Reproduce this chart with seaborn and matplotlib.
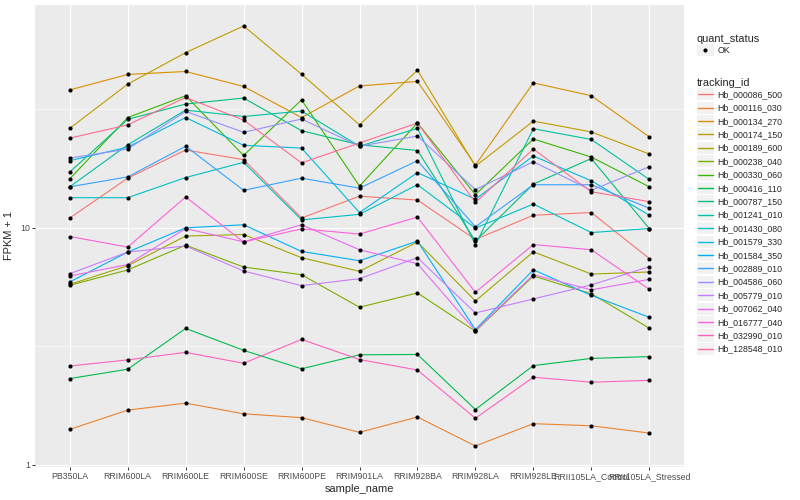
import matplotlib
matplotlib.use("Agg")
import matplotlib.pyplot as plt
from matplotlib.lines import Line2D
from matplotlib.patches import Rectangle
from matplotlib.legend_handler import HandlerBase
from matplotlib.ticker import FixedLocator, NullFormatter
import pandas as pd
import seaborn as sns

samples = ["PB350LA", "RRIM600LA", "RRIM600LE", "RRIM600SE", "RRIM600PE",
           "RRIM901LA", "RRIM928BA", "RRIM928LA", "RRIM928LE",
           "RRII105LA_Control", "RRII105LA_Stressed"]

ids = ["Hb_000086_500", "Hb_000116_030", "Hb_000134_270", "Hb_000174_150",
       "Hb_000189_600", "Hb_000238_040", "Hb_000330_060", "Hb_000416_110",
       "Hb_000787_150", "Hb_001241_010", "Hb_001430_080", "Hb_001579_330",
       "Hb_001584_350", "Hb_002889_010", "Hb_004586_060", "Hb_005779_010",
       "Hb_007062_040", "Hb_016777_040", "Hb_032990_010", "Hb_128548_010"]

# FPKM + 1, one value per sample (same order as samples)
hb_000086_500 = [11.0, 16.2, 21.3, 19.4, 11.0, 13.6, 13.1, 8.93, 11.3, 11.6, 7.42]
hb_000116_030 = [1.41, 1.70, 1.82, 1.64, 1.58, 1.37, 1.59, 1.20, 1.49, 1.46, 1.36]
hb_000134_270 = [38.2, 44.4, 45.7, 39.5, 29.2, 39.7, 41.5, 18.4, 40.9, 36.1, 24.2]
hb_000174_150 = [26.3, 40.4, 54.9, 71.1, 44.5, 27.2, 46.3, 18.2, 28.2, 25.4, 20.5]
hb_000189_600 = [5.77, 6.92, 9.23, 9.37, 7.48, 6.55, 8.71, 4.91, 7.92, 6.38, 6.51]
hb_000238_040 = [5.72, 6.64, 8.45, 6.83, 6.34, 4.62, 5.31, 3.66, 6.26, 5.27, 3.77]
hb_000330_060 = [16.1, 29.2, 36.1, 20.2, 34.7, 15.0, 27.7, 13.8, 23.7, 19.9, 14.9]
hb_000416_110 = [2.31, 2.53, 3.76, 3.04, 2.54, 2.91, 2.92, 1.71, 2.62, 2.81, 2.86]
hb_000787_150 = [17.2, 28.7, 33.3, 35.3, 25.7, 22.4, 21.2, 8.79, 15.3, 19.6, 9.93]
hb_001241_010 = [14.9, 22.4, 31.4, 29.5, 31.1, 22.1, 26.3, 8.48, 26.2, 23.6, 16.0]
hb_001430_080 = [13.4, 13.4, 16.3, 18.9, 10.8, 11.4, 15.2, 9.97, 12.6, 9.55, 9.93]
hb_001579_330 = [19.2, 21.9, 29.2, 22.3, 21.7, 11.6, 17.1, 13.2, 20.1, 15.8, 11.3]
hb_001584_350 = [5.91, 7.90, 10.0, 10.3, 7.95, 7.26, 8.79, 3.72, 6.65, 5.19, 4.19]
hb_002889_010 = [14.9, 16.4, 22.1, 14.4, 16.2, 14.7, 19.2, 10.1, 15.2, 15.2, 12.1]
hb_004586_060 = [19.7, 21.5, 31.0, 25.3, 28.8, 22.1, 24.4, 14.5, 19.0, 14.4, 18.1]
hb_005779_010 = [6.40, 7.90, 8.38, 6.57, 5.70, 6.10, 7.48, 4.37, 5.01, 5.74, 6.85]
hb_007062_040 = [6.26, 7.00, 9.93, 8.73, 10.3, 8.08, 7.05, 3.68, 6.34, 5.47, 6.06]
hb_016777_040 = [9.19, 8.29, 13.5, 8.71, 9.90, 9.41, 11.1, 5.34, 8.50, 8.08, 5.50]
hb_032990_010 = [2.61, 2.77, 2.98, 2.68, 3.38, 2.78, 2.51, 1.57, 2.34, 2.23, 2.27]
hb_128548_010 = [23.9, 27.2, 35.5, 28.5, 18.8, 22.8, 27.7, 12.8, 21.5, 14.2, 12.9]

series = [hb_000086_500, hb_000116_030, hb_000134_270, hb_000174_150,
          hb_000189_600, hb_000238_040, hb_000330_060, hb_000416_110,
          hb_000787_150, hb_001241_010, hb_001430_080, hb_001579_330,
          hb_001584_350, hb_002889_010, hb_004586_060, hb_005779_010,
          hb_007062_040, hb_016777_040, hb_032990_010, hb_128548_010]

# ggplot2 default hue palette, 20 levels
colors = ["#F8766D", "#EA8331", "#D89000", "#C09B00", "#A3A500", "#7CAE00",
          "#39B600", "#00BB4E", "#00BF7D", "#00C1A3", "#00BFC4", "#00BAE0",
          "#00B0F6", "#35A2FF", "#9590FF", "#C77CFF", "#E76BF3", "#FA62DB",
          "#FF62BC", "#FF6C91"]

df = pd.DataFrame({
    "sample_name": samples * len(ids),
    "tracking_id": [t for t in ids for _ in samples],
    "fpkm": [v for s in series for v in s],
})

sns.set_style("darkgrid", {"axes.facecolor": "#EBEBEB", "grid.color": "white"})
plt.rcParams["font.family"] = ["Liberation Sans", "DejaVu Sans"]


class KeyBox(HandlerBase):
    # ggplot-like legend key: grey square with the glyph on top
    def create_artists(self, legend, orig, xd, yd, w, h, fs, trans):
        box = Rectangle((-xd, -yd + 0.5), w, h - 1, facecolor="#F2F2F2",
                        edgecolor="none", transform=trans)
        yc = h / 2 - yd
        arts = [box]
        if orig.get_linestyle() not in ("None", "none", ""):
            arts.append(Line2D([-xd + 1, -xd + w - 1], [yc, yc], color=orig.get_color(),
                               lw=orig.get_linewidth(), transform=trans))
        if orig.get_marker() not in ("None", None, ""):
            arts.append(Line2D([-xd + w / 2], [yc], marker=orig.get_marker(), ls="none",
                               markersize=orig.get_markersize(), color=orig.get_color(),
                               markeredgewidth=0, transform=trans))
        return arts


fig = plt.figure(figsize=(8, 5), dpi=100)
ax = fig.add_axes([0.04375, 0.066, 0.81125, 0.924])

sns.lineplot(data=df, x="sample_name", y="fpkm", hue="tracking_id", hue_order=ids,
             palette=colors, sort=False, estimator=None, errorbar=None, lw=0.8,
             legend=False, ax=ax)
sns.scatterplot(data=df, x="sample_name", y="fpkm", color="black", s=9, linewidth=0,
                legend=False, ax=ax, zorder=3)

ax.set_yscale("log")
ax.set_ylim(0.978, 87.2)
ax.set_xlim(-0.6, 10.6)
ax.set_yticks([1, 10])
ax.set_yticklabels(["1", "10"])
ax.yaxis.set_minor_locator(FixedLocator([10 ** 0.5, 10 ** 1.5]))
ax.yaxis.set_minor_formatter(NullFormatter())
ax.grid(which="major", color="white", lw=0.8)
ax.grid(which="minor", axis="y", color="white", lw=0.4)
ax.set_axisbelow(True)
for sp in ax.spines.values():
    sp.set_visible(False)
ax.tick_params(which="major", length=2.0, width=0.7, color="#333333", bottom=True,
               left=True, labelsize=6.3, labelcolor="#4D4D4D", pad=1.6)
ax.tick_params(which="minor", length=0)
ax.set_xlabel("sample_name", fontsize=7.9, labelpad=2)
ax.set_ylabel("FPKM + 1", fontsize=7.9, labelpad=4.5)

# legends
ok_handle = [Line2D([], [], ls="none", marker="o", color="black", markersize=3.0)]
leg1 = fig.legend(ok_handle, ["OK"], title="quant_status", loc="upper left",
                  bbox_to_anchor=(0.871, 0.933), frameon=False, borderpad=0,
                  borderaxespad=0, fontsize=6.3, title_fontsize=7.9,
                  handlelength=1.98, handleheight=1.98, handletextpad=0.35,
                  labelspacing=0, alignment="left",
                  handler_map={Line2D: KeyBox()})
id_handles = [Line2D([], [], color=c, lw=1.0) for c in colors]
leg2 = fig.legend(id_handles, ids, title="tracking_id", loc="upper left",
                  bbox_to_anchor=(0.871, 0.845), frameon=False, borderpad=0,
                  borderaxespad=0, fontsize=6.3, title_fontsize=7.9,
                  handlelength=1.98, handleheight=1.98, handletextpad=0.35,
                  labelspacing=0, alignment="left",
                  handler_map={Line2D: KeyBox()})

fig.savefig("out.png", dpi=100)
